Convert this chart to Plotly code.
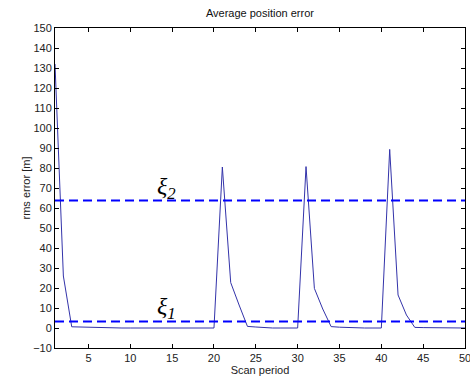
import plotly.graph_objects as go

scan = list(range(1, 51))
rms_error = [132, 26, 0.6, 0.5, 0.4, 0, 0, 0, 0, 0,
             0, 0, 0, 0, 0, 0, 0, 0, 0, 0,
             80.5, 22.7, 11.5, 0.8, 0.5, 0.1, 0, 0, 0, 0,
             80.7, 19.8, 9.5, 0.7, 0.4, 0.2, 0, 0, 0, 0,
             89.3, 16.5, 6.5, 0.3, 0.2, 0.1, 0, 0, 0, 0]
xi1 = 3.3
xi2 = 63.7
xi_labels = ["<i>ξ<sub>1</sub></i>", "<i>ξ<sub>2</sub></i>"]
xi_label_pos = [(14.3, 10), (14.3, 70)]

fig = go.Figure()
fig.add_trace(go.Scatter(x=scan, y=rms_error, mode="lines",
                         line=dict(color="#3333aa", width=1), showlegend=False,
                         cliponaxis=False))
for v in (xi1, xi2):
    fig.add_trace(go.Scatter(x=[1, 50], y=[v, v], mode="lines",
                             line=dict(color="#0000ff", width=2, dash="9px,5px"),
                             showlegend=False))
for txt, (ax, ay) in zip(xi_labels, xi_label_pos):
    fig.add_annotation(x=ax, y=ay, text=txt, showarrow=False,
                       font=dict(family="Liberation Serif", size=24, color="black"))

axis_common = dict(showline=True, linecolor="black", linewidth=1, mirror="ticks",
                   ticks="inside", ticklen=4, tickcolor="black", showgrid=False,
                   zeroline=False, automargin=False, ticklabeloverflow="allow",
                   tickfont=dict(family="Liberation Sans", size=11, color="#222"))
fig.update_xaxes(range=[1, 50], tickvals=list(range(5, 51, 5)),
                 title=dict(text="Scan period", standoff=0,
                            font=dict(family="Liberation Sans", size=11, color="#222")),
                 **axis_common)
fig.update_yaxes(range=[-10, 150], tickvals=list(range(-10, 151, 10)),
                 title=dict(text="rms error [m]", standoff=0,
                            font=dict(family="Liberation Sans", size=11, color="#222")),
                 **axis_common)
fig.update_layout(width=470, height=385, plot_bgcolor="white", paper_bgcolor="white",
                  margin=dict(l=55, r=5, t=28, b=37, autoexpand=False),
                  title=dict(text="Average position error", x=0.553, xanchor="center",
                             y=0.965, yanchor="middle", automargin=False,
                             font=dict(family="Liberation Sans", size=11, color="#111")))
fig.write_html("out.html", config={"displayModeBar": False},
               post_script="document.body.style.margin='0';document.body.style.overflow='hidden';")
